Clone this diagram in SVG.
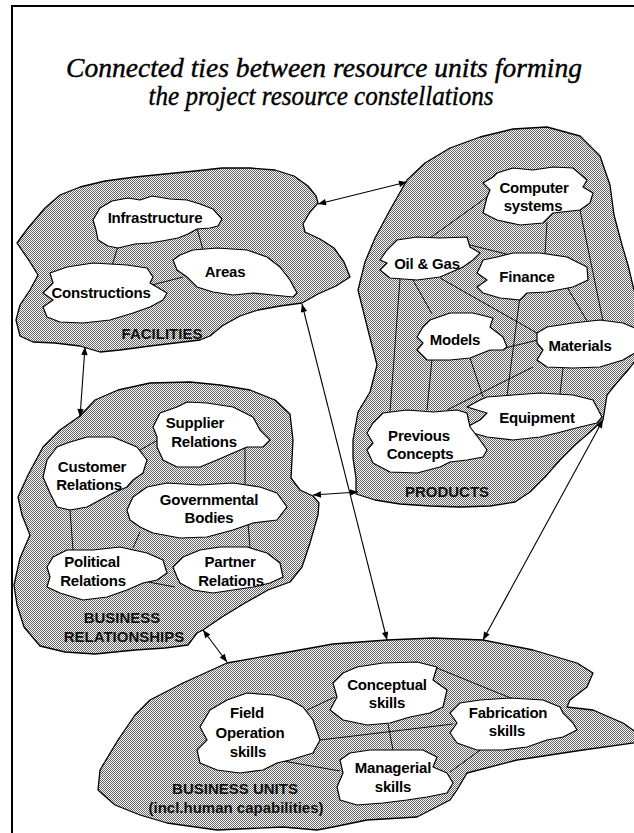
<svg xmlns="http://www.w3.org/2000/svg" width="634" height="833" viewBox="0 0 634 833">
  <defs>
    <!-- fine halftone used for the constellation areas -->
    <pattern id="stipple" width="2" height="2" patternUnits="userSpaceOnUse">
      <rect width="2" height="2" fill="#fafafa"/>
      <rect width="1" height="1" fill="#666"/>
      <rect x="1" y="1" width="1" height="1" fill="#666"/>
    </pattern>
    <marker id="head" viewBox="0 0 10 10" refX="10" refY="5" markerWidth="10" markerHeight="8" markerUnits="userSpaceOnUse" orient="auto-start-reverse">
      <path d="M0,1 L10,5 L0,9 Z" fill="#000"/>
    </marker>
    <style>
      .area { fill: url(#stipple); stroke: #000; stroke-width: 1.3; stroke-linejoin: round; }
      .cloud { fill: #fff; stroke: #000; stroke-width: 1.2; stroke-linejoin: round; }
      .tie { stroke: #000; stroke-width: 0.9; fill: none; }
      .link { stroke: #000; stroke-width: 1.1; fill: none; marker-start: url(#head); marker-end: url(#head); }
      .t { font-family: "Liberation Sans", Arial, sans-serif; font-weight: bold; font-size: 15px; text-anchor: middle; fill: #000; letter-spacing: -0.2px; }
      .lbl { font-family: "Liberation Sans", Arial, sans-serif; font-weight: bold; font-size: 15px; text-anchor: middle; fill: #111; }
      .title { font-family: "Liberation Serif", "Times New Roman", serif; font-style: italic; font-size: 27px; text-anchor: middle; fill: #000; stroke: #000; stroke-width: 0.4; }
    </style>
  </defs>

  <rect width="634" height="833" fill="#fff"/>
  <!-- frame -->
  <path d="M12,833 L12,6 L634,6" fill="none" stroke="#000" stroke-width="2"/>

  <!-- title -->
  <g id="title">
    <text class="title" x="324" y="77" textLength="516" lengthAdjust="spacingAndGlyphs">Connected ties between resource units forming</text>
    <text class="title" x="321" y="105" textLength="345" lengthAdjust="spacingAndGlyphs">the project resource constellations</text>
  </g>

  <!-- constellation areas -->
  <g id="facilities">
    <path class="area" d="M17,243 L28,228 L45,208 L60,195 L80,187 L105,181 L135,177 L165,174 L195,171 L222,168 L250,168 L275,170 L294,176 L308,186 L316,196 L318,203 L310,212 L303,224 L305,232 L320,239 L334,248 L344,262 L350,277 L336,286 L318,294 L302,303 L280,306 L258,310 L240,316 L222,326 L210,336 L200,340 L175,343 L150,346 L120,350 L100,352 L80,346 L55,343 L33,342 L20,336 L16,320 L20,305 L30,290 L38,275 L30,262 Z"/>
  </g>
  <g id="products">
    <path class="area" d="M407,180 L425,163 L450,148 L480,137 L513,129 L547,127 L580,136 L600,156 L610,185 L614,215 L622,245 L628,265 L634,290 L640,300 L640,355 L636,360 L628,370 L615,385 L607,395 L603,420 L590,432 L575,445 L560,460 L545,477 L530,492 L515,502 L490,506 L460,507 L430,506 L400,504 L375,500 L356,494 L356,478 L353,458 L353,440 L358,412 L370,392 L377,365 L368,330 L358,290 L365,262 L375,238 L390,210 Z"/>
  </g>
  <g id="business-relationships">
    <path class="area" d="M80,416 L60,430 L43,447 L28,475 L18,497 L22,515 L30,535 L20,558 L14,585 L17,605 L24,627 L40,646 L65,652 L95,654 L135,650 L165,648 L188,645 L197,633 L203,630 L222,617 L245,603 L268,590 L290,582 L302,567 L310,543 L318,515 L319,503 L313,496 L300,490 L291,478 L293,440 L290,414 L275,400 L250,390 L220,385 L190,382 L150,383 L118,390 L95,400 Z"/>
  </g>
  <g id="business-units">
    <path class="area" d="M150,700 L183,683 L227,663 L283,653 L333,644 L387,640 L433,638 L483,640 L533,650 L577,663 L593,673 L587,687 L570,700 L567,707 L593,710 L623,723 L640,735 L640,742 L583,750 L517,760 L467,773 L457,790 L450,800 L417,817 L367,820 L333,827 L317,830 L283,827 L217,830 L167,823 L140,815 L115,805 L98,790 L100,770 L118,740 L135,715 Z"/>
  </g>

  <!-- ties between resource units and links between constellations -->
  <g id="connectors">
    <path class="tie" d="M118,246 L112,266 M197,228 L203,250 M152,285 L183,277"/>
    <path class="tie" d="M487,197 L430,238 M547,222 L545,254 M580,210 L603,321 M470,245 L510,255 M413,280 L432,314 M440,278 L537,333 M400,279 L390,412 M567,287 L587,321 M520,296 L507,396 M432,359 L427,410 M470,358 L483,397 M533,367 L447,410 M563,368 L560,394 M505,348 L538,340"/>
    <path class="tie" d="M140,450 L158,440 M245,447 L245,484 M70,510 L73,550 M140,532 L133,548 M248,523 L250,548 M143,581 L175,587"/>
    <path class="tie" d="M307,710 L335,697 M437,668 L513,699 M320,740 L453,724 M388,724 L393,750 M283,761 L340,771 M450,772 L483,748"/>
    <line class="link" x1="318" y1="204" x2="407" y2="182"/>
    <line class="link" x1="85" y1="347" x2="80" y2="417"/>
    <line class="link" x1="302" y1="304" x2="387" y2="640"/>
    <line class="link" x1="313" y1="495" x2="358" y2="492"/>
    <line class="link" x1="203" y1="630" x2="227" y2="662"/>
    <line class="link" x1="603" y1="420" x2="483" y2="640"/>
  </g>

  <!-- facilities units -->
  <g id="infrastructure">
    <path class="cloud" d="M93,220 L100,208 L112,201 L128,198 L140,200 L152,196 L170,199 L187,200 L200,204 L213,209 L222,219 L218,226 L210,228 L197,229 L188,234 L178,238 L162,241 L150,243 L135,244 L118,248 L108,246 L98,240 L96,230 Z"/>
    <text class="t" x="155" y="223">Infrastructure</text>
  </g>
  <g id="areas">
    <path class="cloud" d="M173,260 L180,255 L193,250 L217,248 L247,250 L267,257 L280,267 L290,280 L297,293 L293,297 L273,295 L253,293 L233,295 L213,292 L197,287 L187,277 L177,270 Z"/>
    <text class="t" x="225" y="277">Areas</text>
  </g>
  <g id="constructions">
    <path class="cloud" d="M43,293 L53,283 L50,273 L67,267 L93,263 L127,265 L147,268 L153,277 L150,283 L167,293 L163,300 L150,307 L133,313 L110,320 L83,323 L60,322 L47,317 L43,307 L53,300 Z"/>
    <text class="t" x="101" y="298">Constructions</text>
  </g>
  <text class="lbl" x="162" y="339">FACILITIES</text>

  <!-- product units -->
  <g id="computer-systems">
    <path class="cloud" d="M493,177 L497,173 L513,168 L533,170 L553,167 L573,168 L587,180 L583,187 L593,193 L590,203 L580,210 L553,213 L543,223 L520,225 L497,220 L483,213 L487,197 L490,190 L483,183 Z"/>
    <text class="t" x="534" y="193">Computer</text>
    <text class="t" x="533" y="211">systems</text>
  </g>
  <g id="oil-gas">
    <path class="cloud" d="M380,260 L387,250 L397,240 L417,237 L440,238 L467,237 L470,247 L480,253 L473,260 L463,267 L440,277 L417,280 L390,278 L380,270 L387,263 Z"/>
    <text class="t" x="427" y="269">Oil &amp; Gas</text>
  </g>
  <g id="finance">
    <path class="cloud" d="M480,267 L483,260 L497,257 L513,253 L540,253 L567,257 L587,267 L588,280 L573,287 L547,292 L527,293 L520,300 L500,298 L483,293 L477,287 L487,280 L477,273 Z"/>
    <text class="t" x="527" y="282">Finance</text>
  </g>
  <g id="models">
    <path class="cloud" d="M417,337 L423,327 L430,320 L450,313 L473,313 L493,318 L490,327 L503,337 L507,347 L503,350 L490,350 L470,358 L450,360 L427,360 L417,350 L423,343 Z"/>
    <text class="t" x="455" y="345">Models</text>
  </g>
  <g id="materials">
    <path class="cloud" d="M537,333 L547,327 L573,323 L600,320 L623,323 L640,330 L640,350 L623,360 L600,367 L573,368 L547,367 L537,360 L543,350 L537,343 Z"/>
    <text class="t" x="580" y="351">Materials</text>
  </g>
  <g id="equipment">
    <path class="cloud" d="M467,407 L480,400 L487,397 L513,395 L540,393 L573,395 L593,400 L602,417 L597,423 L580,427 L557,433 L540,437 L513,440 L487,437 L473,433 L467,427 L480,420 L487,413 Z"/>
    <text class="t" x="537" y="423">Equipment</text>
  </g>
  <g id="previous-concepts">
    <path class="cloud" d="M373,423 L383,413 L407,410 L433,412 L457,410 L467,413 L470,427 L480,440 L487,450 L483,457 L467,460 L450,462 L440,467 L417,473 L390,472 L373,463 L367,450 L373,443 L367,433 Z"/>
    <text class="t" x="419" y="441">Previous</text>
    <text class="t" x="420" y="459">Concepts</text>
  </g>
  <text class="lbl" x="447" y="497">PRODUCTS</text>

  <!-- business relationship units -->
  <g id="supplier-relations">
    <path class="cloud" d="M153,427 L160,413 L177,407 L187,402 L207,403 L233,407 L253,417 L260,430 L270,440 L263,447 L247,447 L233,453 L217,460 L200,467 L177,467 L163,460 L157,447 L157,437 Z"/>
    <text class="t" x="195" y="428">Supplier</text>
    <text class="t" x="204" y="447">Relations</text>
  </g>
  <g id="customer-relations">
    <path class="cloud" d="M47,460 L57,447 L67,443 L87,437 L113,437 L137,447 L147,460 L143,473 L133,480 L127,487 L113,493 L100,500 L87,507 L70,510 L57,507 L50,493 L43,477 Z"/>
    <text class="t" x="92" y="472">Customer</text>
    <text class="t" x="89" y="490">Relations</text>
  </g>
  <g id="governmental-bodies">
    <path class="cloud" d="M127,510 L133,497 L147,487 L167,483 L200,485 L233,483 L260,487 L277,493 L287,507 L277,520 L253,523 L233,530 L207,537 L180,538 L153,533 L140,527 L130,520 Z"/>
    <text class="t" x="209" y="505">Governmental</text>
    <text class="t" x="209" y="523">Bodies</text>
  </g>
  <g id="political-relations">
    <path class="cloud" d="M47,567 L53,557 L67,550 L93,550 L120,547 L147,553 L163,560 L167,573 L157,580 L143,583 L127,590 L107,597 L83,600 L60,593 L47,587 L50,577 Z"/>
    <text class="t" x="92" y="567">Political</text>
    <text class="t" x="93" y="586">Relations</text>
  </g>
  <g id="partner-relations">
    <path class="cloud" d="M173,567 L183,557 L200,550 L220,547 L247,547 L267,553 L280,563 L283,577 L270,583 L253,587 L233,590 L213,593 L193,590 L180,583 L177,577 Z"/>
    <text class="t" x="230" y="567">Partner</text>
    <text class="t" x="231" y="586">Relations</text>
  </g>
  <text class="lbl" x="122" y="623">BUSINESS</text>
  <text class="lbl" x="124" y="642">RELATIONSHIPS</text>

  <!-- business units -->
  <g id="field-operation-skills">
    <path class="cloud" d="M200,727 L210,710 L227,700 L247,693 L273,695 L290,700 L303,707 L313,720 L320,740 L313,753 L290,760 L277,763 L263,770 L240,773 L217,770 L200,763 L197,750 L207,740 Z"/>
    <text class="t" x="247" y="718">Field</text>
    <text class="t" x="250" y="738">Operation</text>
    <text class="t" x="248" y="757">skills</text>
  </g>
  <g id="conceptual-skills">
    <path class="cloud" d="M333,683 L343,673 L357,667 L383,663 L417,662 L437,667 L433,680 L447,690 L443,707 L430,713 L410,717 L390,723 L367,725 L343,720 L330,710 L337,697 Z"/>
    <text class="t" x="387" y="690">Conceptual</text>
    <text class="t" x="387" y="708">skills</text>
  </g>
  <g id="fabrication-skills">
    <path class="cloud" d="M450,713 L460,703 L480,700 L510,698 L543,700 L560,707 L563,713 L573,723 L577,730 L563,737 L547,740 L527,747 L503,750 L477,750 L457,743 L450,733 L457,723 Z"/>
    <text class="t" x="508" y="718">Fabrication</text>
    <text class="t" x="507" y="736">skills</text>
  </g>
  <g id="managerial-skills">
    <path class="cloud" d="M340,760 L350,753 L370,750 L397,750 L423,750 L437,757 L433,767 L447,773 L453,783 L447,793 L427,797 L407,800 L383,803 L357,805 L340,800 L337,787 L343,773 Z"/>
    <text class="t" x="393" y="773">Managerial</text>
    <text class="t" x="393" y="792">skills</text>
  </g>
  <text class="lbl" x="235" y="794">BUSINESS UNITS</text>
  <text class="lbl" x="236" y="813">(incl.human capabilities)</text>
</svg>
